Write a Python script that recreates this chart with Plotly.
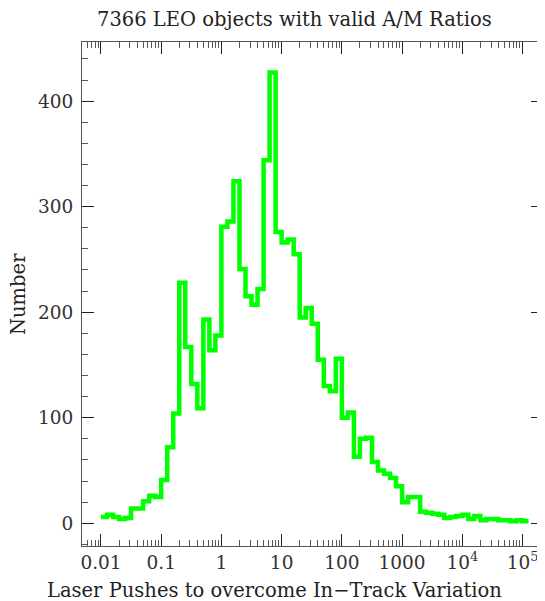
import plotly.graph_objects as go

# Histogram definition: bins of 0.1 dex starting at 0.01
LOG_START = -2.0
LOG_BIN = 0.1
counts = [6, 8, 6, 4, 5, 14, 14, 21, 26, 25,
          41, 72, 104, 228, 167, 132, 109, 193, 164, 178,
          281, 286, 324, 241, 215, 207, 222, 344, 427, 276,
          266, 269, 255, 195, 204, 189, 155, 130, 125, 156,
          100, 105, 63, 80, 81, 58, 50, 47, 43, 35,
          20, 25, 25, 11, 10, 9, 8, 5, 6, 7,
          8, 4, 7, 3, 4, 4, 3, 3, 2, 3, 2]

x_tickvals = [0.01, 0.1, 1, 10, 100, 1000, 1e4, 1e5]
x_ticktext = ["0.01", "0.1", "1", "10", "100", "1000", "10<sup>4</sup>", "10<sup>5</sup>"]
y_tickvals = [0, 100, 200, 300, 400]

title_text = "7366 LEO objects with valid A/M Ratios"
xlabel = "Laser Pushes to overcome In\u2212Track Variation"
ylabel = "Number"

edges = [10 ** (LOG_START + LOG_BIN * i) for i in range(len(counts) + 1)]
xs = edges
ys = counts + [counts[-1]]

minor_x = [m * 10 ** e for e in range(-3, 6) for m in range(2, 10)]
minor_y = list(range(-20, 460, 20))

FONT = "DejaVu Serif"
FS = 18.5
FS_LABEL = 19.5
fig = go.Figure()
fig.add_trace(go.Scatter(x=xs, y=ys, mode="lines", line=dict(shape="hv", color="#00FF00", width=4.5),
                         hoverinfo="skip"))

axis_common = dict(showgrid=False, zeroline=False, showline=True, linecolor="#555", linewidth=1,
                   mirror="ticks", ticks="inside", tickcolor="#222", tickwidth=1, ticklen=12,
                   automargin=False,
                   tickfont=dict(family=FONT, size=FS, color="#333"))

fig.update_xaxes(type="log", range=[-2.315, 5.34], tickmode="array", tickvals=x_tickvals,
                 ticktext=x_ticktext,
                 minor=dict(tickmode="array", tickvals=minor_x, ticks="inside", ticklen=6,
                            tickcolor="#555", tickwidth=1, showgrid=False),
                 **axis_common)
fig.update_yaxes(range=[-21.5, 456], tickmode="array", tickvals=y_tickvals,
                 minor=dict(tickmode="array", tickvals=minor_y, ticks="inside", ticklen=6,
                            tickcolor="#555", tickwidth=1, showgrid=False),
                 ticklabelstandoff=4,
                 **axis_common)

fig.add_annotation(text=title_text, xref="paper", yref="paper", x=0.462, y=1.0, yshift=23,
                   showarrow=False, font=dict(family=FONT, size=FS_LABEL, color="#222"),
                   xanchor="center", yanchor="middle")
fig.add_annotation(text=xlabel, xref="paper", yref="paper", x=0.4165, y=0, yshift=-44,
                   showarrow=False, font=dict(family=FONT, size=FS_LABEL, color="#222"),
                   xanchor="center", yanchor="middle")
fig.add_annotation(text=ylabel, xref="paper", yref="paper", x=0, xshift=-64, y=0.5,
                   textangle=-90, showarrow=False, font=dict(family=FONT, size=FS_LABEL, color="#222"),
                   xanchor="center", yanchor="middle")

# page body has an 8px margin; figure sized so plot frame lands at x 82-543, y 42-546 of the window
fig.update_layout(width=537, height=593, margin=dict(l=74, r=2, t=34, b=55, autoexpand=False),
                  paper_bgcolor="white", plot_bgcolor="white", showlegend=False)

fig.write_html("out.html")
